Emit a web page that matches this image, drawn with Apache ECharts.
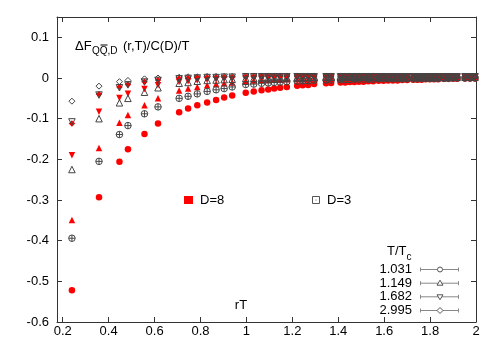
<!DOCTYPE html>
<html>
<head>
<meta charset="utf-8">
<script src="https://cdn.jsdelivr.net/npm/echarts@6/dist/echarts.min.js"></script>
<style>html,body{margin:0;padding:0;background:#fff}#c{width:500px;height:350px}</style>
</head>
<body>
<div id="c"></div>
<script>
// rT positions of the lattice separations
const rT = [0.240, 0.358, 0.447, 0.484, 0.556, 0.615,
  0.707, 0.746, 0.786, 0.829, 0.868, 0.903, 0.938,
  0.997, 1.032, 1.066, 1.095, 1.121, 1.147, 1.176,
  1.221, 1.245, 1.269, 1.295,
  1.347, 1.369,
  1.410, 1.430, 1.450, 1.470, 1.490, 1.510, 1.531, 1.552,
  1.576, 1.597, 1.617, 1.638, 1.658, 1.679, 1.700,
  1.727, 1.745, 1.763, 1.781, 1.799, 1.817, 1.835,
  1.860, 1.880, 1.900, 1.918,
  1.952, 1.974,
  1.996];

// D=8 (red, filled)
const d8_T1031 = [-0.522, -0.293, -0.206, -0.175, -0.138, -0.112,
  -0.084, -0.075, -0.067, -0.060, -0.054, -0.048, -0.043,
  -0.036, -0.033, -0.030, -0.028, -0.026, -0.024, -0.022,
  -0.019, -0.018, -0.017, -0.015,
  -0.013, -0.012,
  -0.011, -0.011, -0.010, -0.010, -0.009, -0.009, -0.008, -0.008,
  -0.007, -0.007, -0.006, -0.006, -0.006, -0.005, -0.005,
  -0.004, -0.004, -0.004, -0.003, -0.003, -0.003, -0.003,
  -0.002, -0.002, -0.002, -0.002,
  -0.001, -0.001,
  -0.001];
const d8_T1149 = [-0.349, -0.172, -0.110, -0.091, -0.067, -0.050,
  -0.031, -0.026, -0.022, -0.018, -0.015, -0.013, -0.011,
  -0.007, -0.006, -0.005, -0.005, -0.004, -0.004, -0.003,
  -0.003, -0.002, -0.002, -0.002,
  -0.001, -0.001,
  -0.001, -0.001, -0.001, 0.000, 0.000, 0.000, 0.000, 0.000,
  0.000, 0.000, 0.000, 0.000, 0.000, 0.000, 0.000,
  0.000, 0.000, 0.000, 0.000, 0.000, 0.000, 0.000,
  0.001, 0.001, 0.001, 0.001,
  0.001, 0.001,
  0.001];
const d8_T1682 = [-0.190, -0.083, -0.049, -0.039, -0.027, -0.018,
  -0.010, -0.008, -0.006, -0.004, -0.003, -0.002, -0.002,
  0.000, 0.000, 0.001, 0.001, 0.001, 0.001, 0.001,
  0.002, 0.002, 0.002, 0.002,
  0.002, 0.002,
  0.002, 0.002, 0.002, 0.002, 0.002, 0.002, 0.002, 0.002,
  0.002, 0.002, 0.002, 0.002, 0.002, 0.002, 0.002,
  0.002, 0.002, 0.002, 0.002, 0.002, 0.002, 0.002,
  0.002, 0.002, 0.002, 0.002,
  0.002, 0.002,
  0.002];
const d8_T2995 = [-0.112, -0.040, -0.022, -0.016, -0.009, -0.005,
  -0.001, 0.000, 0.001, 0.001, 0.002, 0.002, 0.002,
  0.003, 0.003, 0.003, 0.003, 0.003, 0.003, 0.003,
  0.003, 0.003, 0.003, 0.003,
  0.003, 0.003,
  0.003, 0.003, 0.003, 0.003, 0.003, 0.003, 0.003, 0.003,
  0.003, 0.003, 0.003, 0.003, 0.003, 0.003, 0.003,
  0.003, 0.003, 0.003, 0.003, 0.003, 0.003, 0.003,
  0.003, 0.003, 0.003, 0.003,
  0.003, 0.003,
  0.003];

// D=3 (grey, open)
const d3_T1031 = [-0.394, -0.205, -0.139, -0.117, -0.088, -0.071,
  -0.050, -0.045, -0.039, -0.033, -0.029, -0.026, -0.022,
  -0.016, -0.015, -0.013, -0.012, -0.011, -0.010, -0.009,
  -0.008, -0.007, -0.007, -0.006,
  -0.005, -0.005,
  -0.004, -0.004, -0.004, -0.003, -0.003, -0.003, -0.003, -0.003,
  -0.002, -0.002, -0.002, -0.002, -0.002, -0.002, -0.002,
  -0.002, -0.002, -0.001, -0.001, -0.001, -0.001, -0.001,
  -0.001, -0.001, 0.000, 0.000,
  0.000, 0.000,
  0.000];
const d3_T1149 = [-0.225, -0.100, -0.061, -0.050, -0.035, -0.024,
  -0.013, -0.011, -0.008, -0.006, -0.005, -0.004, -0.003,
  -0.001, -0.001, 0.000, 0.000, 0.001, 0.001, 0.001,
  0.001, 0.001, 0.002, 0.002,
  0.002, 0.002,
  0.002, 0.002, 0.002, 0.002, 0.002, 0.002, 0.002, 0.002,
  0.002, 0.002, 0.002, 0.002, 0.002, 0.002, 0.002,
  0.002, 0.002, 0.002, 0.002, 0.002, 0.002, 0.002,
  0.002, 0.002, 0.002, 0.002,
  0.002, 0.002,
  0.002];
const d3_T1682 = [-0.108, -0.042, -0.024, -0.017, -0.010, -0.006,
  -0.002, -0.001, 0.000, 0.001, 0.001, 0.002, 0.002,
  0.003, 0.003, 0.003, 0.003, 0.003, 0.003, 0.003,
  0.003, 0.003, 0.003, 0.003,
  0.003, 0.003,
  0.003, 0.003, 0.003, 0.003, 0.003, 0.003, 0.003, 0.003,
  0.003, 0.003, 0.003, 0.003, 0.003, 0.003, 0.003,
  0.003, 0.003, 0.003, 0.003, 0.003, 0.003, 0.003,
  0.003, 0.003, 0.003, 0.003,
  0.003, 0.003,
  0.003];
const d3_T2995 = [-0.057, -0.020, -0.009, -0.006, -0.002, 0.000,
  0.002, 0.003, 0.003, 0.004, 0.004, 0.004, 0.004,
  0.005, 0.005, 0.005, 0.005, 0.005, 0.005, 0.005,
  0.005, 0.005, 0.005, 0.005,
  0.005, 0.005,
  0.005, 0.005, 0.005, 0.005, 0.005, 0.005, 0.005, 0.005,
  0.004, 0.004, 0.004, 0.004, 0.004, 0.004, 0.004,
  0.004, 0.004, 0.004, 0.004, 0.004, 0.004, 0.004,
  0.004, 0.004, 0.004, 0.004,
  0.004, 0.004,
  0.004];

const xTicks = [0.2, 0.4, 0.6, 0.8, 1.0, 1.2, 1.4, 1.6, 1.8, 2.0];
const yTicks = [-0.6, -0.5, -0.4, -0.3, -0.2, -0.1, 0, 0.1];
const tLabels = ['1.031', '1.149', '1.682', '2.995'];

const FONT = 'Liberation Sans, Arial, sans-serif';
const RED = '#ff0000';
const GREY = '#444444';
const circlePlus = 'path://M10,0A10,10,0,1,1,10,20A10,10,0,1,1,10,0ZM10,0L10,20M0,10L20,10';

function pts(arr) { return rT.map((x, i) => [x, arr[i]]); }

function redSeries(arr, symbol, rot, size) {
  return { type: 'scatter', data: pts(arr), symbol: symbol, symbolRotate: rot, symbolSize: size,
    itemStyle: { color: RED, opacity: 1 }, silent: true, z: 2 };
}
function greySeries(arr, symbol, rot, size) {
  return { type: 'scatter', data: pts(arr), symbol: symbol, symbolRotate: rot, symbolSize: size,
    itemStyle: { color: 'rgba(255,255,255,0)', borderColor: GREY, borderWidth: 1, opacity: 1 }, silent: true, z: 3 };
}

const axisLineStyle = { color: '#333', width: 1 };
const fmt = v => String(Math.round(v * 10) / 10);

const chart = echarts.init(document.getElementById('c'), null, { renderer: 'canvas' });

// legend key graphics
const keyYs = [269.5, 283.2, 296.8, 310.5];
const keyGraphics = [];
keyYs.forEach((y, i) => {
  keyGraphics.push({ type: 'text', x: 412, y: y, style: { text: tLabels[i], font: '13px ' + FONT, fill: '#000', align: 'right', verticalAlign: 'middle' } });
  keyGraphics.push({ type: 'polyline', shape: { points: [[420, y], [459, y]] }, style: { stroke: '#888', lineWidth: 1, fill: null } });
  keyGraphics.push({ type: 'polyline', shape: { points: [[420.5, y - 2], [420.5, y + 2]] }, style: { stroke: '#888', lineWidth: 1, fill: null } });
  keyGraphics.push({ type: 'polyline', shape: { points: [[458.5, y - 2], [458.5, y + 2]] }, style: { stroke: '#888', lineWidth: 1, fill: null } });
});
const mk = { fill: '#fff', stroke: '#555', lineWidth: 1 };
keyGraphics.push({ type: 'circle', shape: { cx: 440, cy: keyYs[0], r: 2.5 }, style: mk });
keyGraphics.push({ type: 'polygon', shape: { points: [[440, keyYs[1] - 3], [443, keyYs[1] + 2], [437, keyYs[1] + 2]] }, style: mk });
keyGraphics.push({ type: 'polygon', shape: { points: [[440, keyYs[2] + 3], [443, keyYs[2] - 2], [437, keyYs[2] - 2]] }, style: mk });
keyGraphics.push({ type: 'polygon', shape: { points: [[440, keyYs[3] - 3], [443, keyYs[3]], [440, keyYs[3] + 3], [437, keyYs[3]]] }, style: mk });

chart.setOption({
  animation: false,
  backgroundColor: '#fff',
  grid: { left: 57, top: 17, width: 419, height: 305, containLabel: false },
  xAxis: [
    { type: 'value', min: 0.175, max: 2.0, position: 'bottom',
      axisLine: { show: true, onZero: false, lineStyle: axisLineStyle },
      axisTick: { show: true, inside: true, length: 5, customValues: xTicks, lineStyle: axisLineStyle },
      axisLabel: { show: true, customValues: xTicks, formatter: fmt, margin: 3, color: '#000', fontSize: 13, fontFamily: FONT },
      splitLine: { show: false } },
    { type: 'value', min: 0.175, max: 2.0, position: 'top',
      axisLine: { show: true, onZero: false, lineStyle: axisLineStyle },
      axisTick: { show: true, inside: true, length: 5, customValues: xTicks, lineStyle: axisLineStyle },
      axisLabel: { show: false }, splitLine: { show: false } }
  ],
  yAxis: [
    { type: 'value', min: -0.6, max: 0.15, position: 'left',
      axisLine: { show: true, onZero: false, lineStyle: axisLineStyle },
      axisTick: { show: true, inside: true, length: 5, customValues: yTicks, lineStyle: axisLineStyle },
      axisLabel: { show: true, customValues: yTicks, formatter: fmt, margin: 8, color: '#000', fontSize: 13, fontFamily: FONT },
      splitLine: { show: false } },
    { type: 'value', min: -0.6, max: 0.15, position: 'right',
      axisLine: { show: true, onZero: false, lineStyle: axisLineStyle },
      axisTick: { show: true, inside: true, length: 5, customValues: yTicks, lineStyle: axisLineStyle },
      axisLabel: { show: false }, splitLine: { show: false } }
  ],
  series: [
    redSeries(d8_T1031, 'circle', 0, 6.5),
    redSeries(d8_T1149, 'triangle', 0, 6.5),
    redSeries(d8_T1682, 'triangle', 180, 6.5),
    redSeries(d8_T2995, 'diamond', 0, 6.5),
    greySeries(d3_T1031, circlePlus, 0, 6.5),
    greySeries(d3_T1149, 'triangle', 0, 6.5),
    greySeries(d3_T1682, 'triangle', 180, 6.5),
    greySeries(d3_T2995, 'diamond', 0, 6)
  ],
  graphic: [
    { type: 'text', x: 75, y: 46, style: { text: 'ΔF', font: '13px ' + FONT, fill: '#000', verticalAlign: 'middle' } },
    { type: 'text', x: 92, y: 51, style: { text: 'QQ,D', font: '10px ' + FONT, fill: '#000', verticalAlign: 'middle' } },
    { type: 'polyline', shape: { points: [[100.5, 45], [107.5, 45]] }, style: { stroke: '#000', lineWidth: 1, fill: null } },
    { type: 'text', x: 123, y: 46, style: { text: '(r,T)/C(D)/T', font: '13px ' + FONT, fill: '#000', verticalAlign: 'middle' } },
    { type: 'text', x: 241, y: 305, style: { text: 'rT', font: '13px ' + FONT, fill: '#000', align: 'center', verticalAlign: 'middle' } },
    { type: 'rect', shape: { x: 184, y: 196, width: 9, height: 8 }, style: { fill: RED } },
    { type: 'text', x: 200, y: 200.5, style: { text: 'D=8', font: '13px ' + FONT, fill: '#000', verticalAlign: 'middle' } },
    { type: 'rect', shape: { x: 312.5, y: 196.5, width: 7, height: 7 }, style: { fill: '#fff', stroke: '#555', lineWidth: 1 } },
    { type: 'circle', shape: { cx: 316, cy: 200, r: 0.6 }, style: { fill: '#555' } },
    { type: 'text', x: 327, y: 200.5, style: { text: 'D=3', font: '13px ' + FONT, fill: '#000', verticalAlign: 'middle' } },
    { type: 'text', x: 387, y: 251, style: { text: 'T/T', font: '13px ' + FONT, fill: '#000', verticalAlign: 'middle' } },
    { type: 'text', x: 406.5, y: 257.5, style: { text: 'c', font: '10px ' + FONT, fill: '#000', verticalAlign: 'middle' } }
  ].concat(keyGraphics)
});
</script>
</body>
</html>
